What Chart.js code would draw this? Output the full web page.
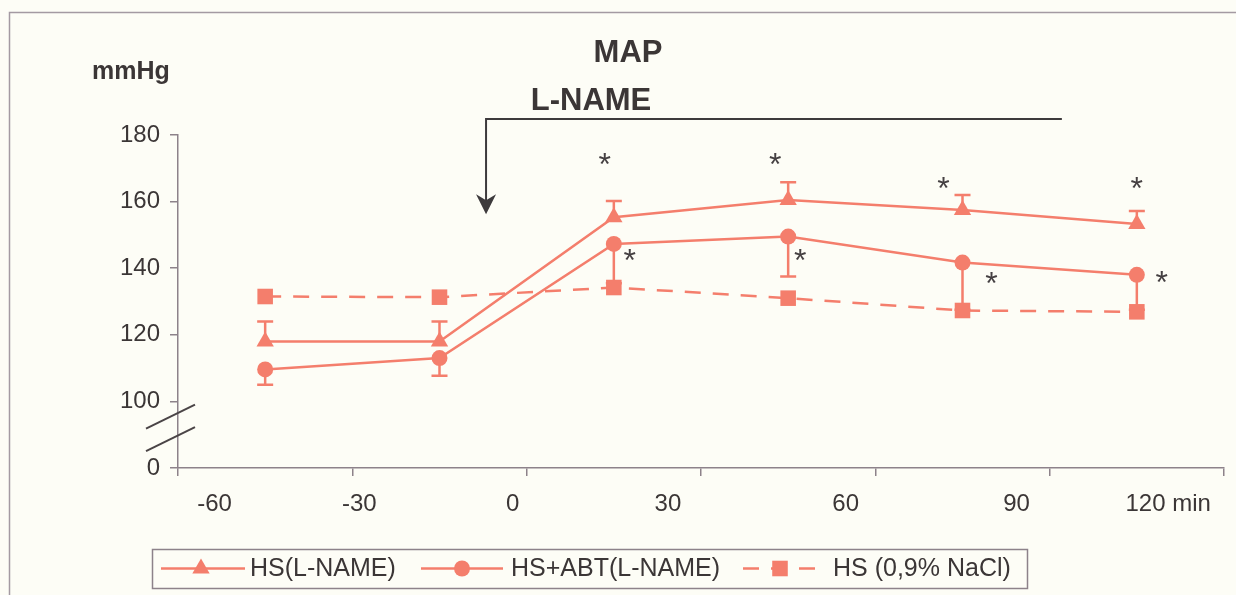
<!DOCTYPE html>
<html>
<head>
<meta charset="utf-8">
<script src="https://cdn.jsdelivr.net/npm/chart.js@4.4.1/dist/chart.umd.min.js"></script>
<style>
  html, body { margin: 0; padding: 0; background: #fdfdf6; }
  canvas { display: block; }
</style>
</head>
<body>
<canvas id="c" width="1236" height="595"></canvas>
<script>
// ---- data (mean MAP, mmHg) ----
const timeLabels    = ['-60', '-30', '0', '30', '60', '90', '120 min'];
const yTickValues   = [80, 100, 120, 140, 160, 180];   // 80 is shown as "0" (broken axis)
const hsLname       = [118.0, 118.0, 155.3, 160.5, 157.5, 153.3];
const hsLnameUpper  = [124.0, 124.0, 160.2, 165.8, 162.0, 157.2];
const hsAbt         = [109.6, 113.0, 147.3, 149.5, 141.7, 138.0];
const hsAbtLower    = [105.0, 107.7, 135.5, 137.5, 127.5, 127.5];
const hsNacl        = [131.5, 131.3, 134.2, 131.0, 127.3, 126.9];
const sigLname      = [null, null, 173.4, 173.4, 166.2, 166.4];   // "*" levels
const sigAbt        = [null, null, 144.6, 144.6, 137.7, 138.0];

// ---- styling / layout ----
const FONT = '"Liberation Sans", Arial, Helvetica, sans-serif';
const SALMON = '#f47e6c';
const INK = '#3b3636';
const AXIS = '#8d828a';
const labelPos = [0.21, 1.04, 1.92, 2.81, 3.83, 4.81, 5.68];     // where the time labels sit along x
const sigLnameDx = [0, 0, -9, -13, -19, 0];
const sigAbtDx   = [0, 0, 16, 12, 29, 25];
const lnameArrow = { x: 1.767, xEnd: 5.07, top: 184.8, tip: 156.2 };

const toPoints = arr => arr.map((v, i) => ({ x: i + 0.5, y: v }));

const backgroundPlugin = {
  id: 'background',
  beforeDraw(chart) {
    const { ctx, width, height } = chart;
    ctx.save();
    ctx.fillStyle = '#fdfdf6';
    ctx.fillRect(0, 0, width, height);
    ctx.strokeStyle = '#a49aa2';
    ctx.lineWidth = 1.5;
    ctx.strokeRect(9.5, 12.5, width + 20, height + 20);
    ctx.restore();
  }
};

const errorBarPlugin = {
  id: 'errorBars',
  beforeDatasetsDraw(chart) {
    const { ctx } = chart;
    const xs = chart.scales.x, ys = chart.scales.y;
    const cap = 8;
    ctx.save();
    ctx.strokeStyle = SALMON;
    ctx.lineWidth = 2.5;
    const draw = (vals, ends) => {
      vals.forEach((v, i) => {
        const px = xs.getPixelForValue(i + 0.5);
        const y0 = ys.getPixelForValue(v);
        const y1 = ys.getPixelForValue(ends[i]);
        ctx.beginPath();
        ctx.moveTo(px, y0); ctx.lineTo(px, y1);
        ctx.moveTo(px - cap, y1); ctx.lineTo(px + cap, y1);
        ctx.stroke();
      });
    };
    draw(hsLname, hsLnameUpper);
    draw(hsAbt, hsAbtLower);
    ctx.restore();
  }
};

const annotationPlugin = {
  id: 'annotations',
  afterDraw(chart) {
    const { ctx } = chart;
    const xs = chart.scales.x, ys = chart.scales.y;
    ctx.save();

    // titles
    ctx.fillStyle = INK;
    ctx.textAlign = 'center';
    ctx.textBaseline = 'alphabetic';
    ctx.font = 'bold 31px ' + FONT;
    ctx.fillText('MAP', 628, 62);
    ctx.fillText('L-NAME', 591, 110);
    ctx.font = 'bold 25px ' + FONT;
    ctx.fillText('mmHg', 131, 79);

    // L-NAME administration arrow
    const ax = xs.getPixelForValue(lnameArrow.x);
    const axEnd = xs.getPixelForValue(lnameArrow.xEnd);
    const aTop = ys.getPixelForValue(lnameArrow.top);
    const aTip = ys.getPixelForValue(lnameArrow.tip);
    ctx.strokeStyle = '#3d3a3c';
    ctx.lineWidth = 2;
    ctx.beginPath();
    ctx.moveTo(axEnd, aTop);
    ctx.lineTo(ax, aTop);
    ctx.lineTo(ax, aTip - 12);
    ctx.stroke();
    ctx.fillStyle = '#3d3a3c';
    ctx.beginPath();
    ctx.moveTo(ax - 10, aTip - 20);
    ctx.lineTo(ax, aTip - 14);
    ctx.lineTo(ax + 10, aTip - 20);
    ctx.lineTo(ax, aTip);
    ctx.closePath();
    ctx.fill();

    // axis break marks
    const bx = xs.left;
    ctx.strokeStyle = '#4a4446';
    ctx.lineWidth = 2;
    [96.6, 89.9].forEach(v => {
      const by = ys.getPixelForValue(v);
      ctx.beginPath();
      ctx.moveTo(bx - 32, by + 16);
      ctx.lineTo(bx + 17, by - 8);
      ctx.stroke();
    });

    // significance markers
    const starSize = 32;
    ctx.fillStyle = '#454042';
    ctx.font = starSize + 'px ' + FONT;
    ctx.textAlign = 'center';
    const star = (levels, dx) => levels.forEach((v, i) => {
      if (v === null) return;
      const px = xs.getPixelForValue(i + 0.5) + dx[i];
      const py = ys.getPixelForValue(v);
      ctx.fillText('*', px, py + 0.57 * starSize);
    });
    star(sigLname, sigLnameDx);
    star(sigAbt, sigAbtDx);

    // legend
    const lx0 = 152, ly0 = 549, lx1 = 1027, ly1 = 588;
    const ly = (ly0 + ly1) / 2;
    ctx.strokeStyle = AXIS;
    ctx.lineWidth = 1.5;
    ctx.strokeRect(lx0 + 0.5, ly0 + 0.5, lx1 - lx0, ly1 - ly0);
    const items = [
      { ds: 0, a: 161, b: 245, m: 201, t: 250 },
      { ds: 1, a: 421, b: 503, m: 462, t: 511 },
      { ds: 2, a: 743, b: 818, m: 780, t: 833 }
    ];
    items.forEach(it => {
      const ds = chart.data.datasets[it.ds];
      ctx.save();
      ctx.strokeStyle = ds.borderColor;
      ctx.lineWidth = ds.borderWidth;
      ctx.setLineDash(ds.borderDash || []);
      ctx.beginPath();
      ctx.moveTo(it.a, ly); ctx.lineTo(it.b, ly);
      ctx.stroke();
      ctx.setLineDash([]);
      ctx.fillStyle = ds.backgroundColor;
      ctx.strokeStyle = ds.backgroundColor;
      Chart.helpers.drawPoint(ctx, {
        pointStyle: ds.pointStyle, radius: ds.pointRadius, rotation: 0, borderWidth: 0
      }, it.m, ly);
      ctx.restore();
      ctx.fillStyle = INK;
      ctx.font = '25px ' + FONT;
      ctx.textAlign = 'left';
      ctx.textBaseline = 'middle';
      ctx.fillText(ds.label, it.t, ly + 1);
    });
    ctx.restore();
  }
};

new Chart(document.getElementById('c'), {
  type: 'line',
  data: {
    datasets: [
      {
        label: 'HS(L-NAME)',
        data: toPoints(hsLname),
        borderColor: SALMON, backgroundColor: SALMON,
        borderWidth: 2.5, pointStyle: 'triangle', pointRadius: 10,
        pointBorderWidth: 0, tension: 0
      },
      {
        label: 'HS+ABT(L-NAME)',
        data: toPoints(hsAbt),
        borderColor: SALMON, backgroundColor: SALMON,
        borderWidth: 2.5, pointStyle: 'circle', pointRadius: 8,
        pointBorderWidth: 0, tension: 0
      },
      {
        label: 'HS (0,9% NaCl)',
        data: toPoints(hsNacl),
        borderColor: SALMON, backgroundColor: SALMON,
        borderWidth: 2.5, borderDash: [16, 12], pointStyle: 'rect', pointRadius: 11,
        pointBorderWidth: 0, tension: 0
      }
    ]
  },
  options: {
    responsive: false,
    animation: false,
    devicePixelRatio: 1,
    layout: { padding: { top: 135, right: 12, bottom: 79, left: 0 } },
    plugins: { legend: { display: false }, title: { display: false }, tooltip: { enabled: false } },
    scales: {
      x: {
        type: 'linear', min: 0, max: 6, position: 'bottom', weight: 0,
        grid: { drawOnChartArea: false, drawTicks: true, tickLength: 8, color: AXIS, lineWidth: 1.5 },
        border: { color: AXIS, width: 1.5 },
        ticks: { display: false, stepSize: 1 },
        afterFit: s => { s.height = 8; }
      },
      x2: {
        type: 'linear', min: 0, max: 6, position: 'bottom', weight: 1,
        grid: { display: false }, border: { display: false },
        afterBuildTicks: s => { s.ticks = labelPos.map(v => ({ value: v })); },
        ticks: {
          autoSkip: false, maxRotation: 0, padding: 6, color: INK,
          font: { size: 24, family: FONT },
          callback: (v, i) => timeLabels[i]
        },
        afterFit: s => { s.height = 40; }
      },
      y: {
        type: 'linear', min: 80, max: 180,
        afterBuildTicks: s => { s.ticks = yTickValues.map(v => ({ value: v })); },
        grid: { drawOnChartArea: false, tickLength: 8, color: AXIS, lineWidth: 1.5 },
        border: { color: AXIS, width: 1.5 },
        ticks: {
          padding: 10, color: INK, font: { size: 24, family: FONT },
          callback: v => (v === 80 ? '0' : String(v))
        },
        afterFit: s => { s.width = 178; }
      }
    }
  },
  plugins: [backgroundPlugin, errorBarPlugin, annotationPlugin]
});
</script>
</body>
</html>
